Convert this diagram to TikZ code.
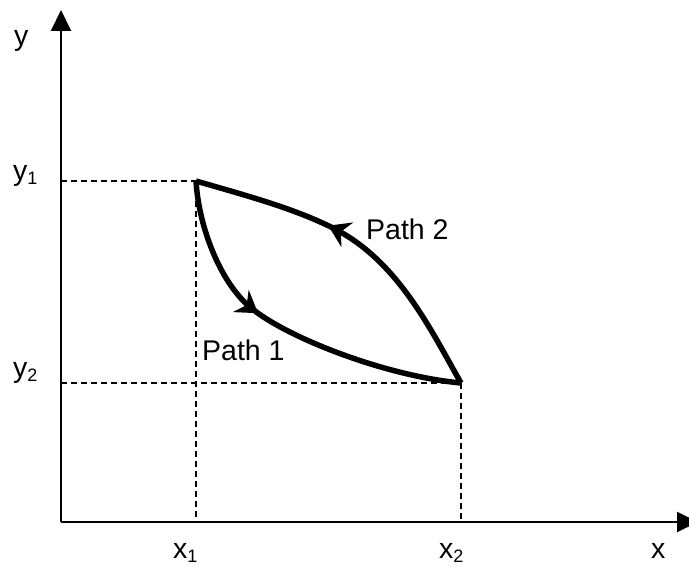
\documentclass[tikz,border=0pt]{standalone}
\usepackage{fontspec}
\setmainfont{Liberation Sans}
\usetikzlibrary{arrows.meta,decorations.markings}
\newcommand\lowsub[1]{\raisebox{-4pt}{\fontsize{18}{18}\selectfont #1}}
\tikzset{
  headtip/.tip={Stealth[length=21pt,width=27pt,inset=7pt]},
  axis/.style={line width=2pt,-{Triangle[length=21pt,width=20pt]}},
  guide/.style={line width=1.3pt,dash pattern=on 6pt off 4pt},
  pathcurve/.style={line width=5.5pt,line join=miter,postaction={decorate}},
  lbl/.style={anchor=base west,inner sep=0pt,font=\fontsize{28.5}{31}\selectfont},
}
\begin{document}
\begin{tikzpicture}[x=1pt,y=-1pt]
\useasboundingbox (0,0) rectangle (689,567);
\coordinate (O) at (61,522);
\coordinate (ytip) at (61,10);
\coordinate (xtip) at (698,522);
\coordinate (P1) at (196,181);
\coordinate (P2) at (461,383);
\coordinate (Q) at (250,307);
\coordinate (M) at (333,228);
% axes
\draw[axis] (O) -- (ytip);
\draw[axis] (O) -- (xtip);
% guides
\draw[guide] (O |- P1) -- (P1);
\draw[guide] (O |- P2) -- (P2);
\draw[guide] (P1) -- (P1 |- O);
\draw[guide] (P2) -- (P2 |- O);
% path 1
\draw[pathcurve,decoration={markings,mark=at position 0.41 with {\arrow{headtip}}}]
  (P1) .. controls (199,230) and (222,284) .. (Q)
       .. controls (285,337) and (385,376) .. (P2);
% path 2
\draw[pathcurve,decoration={markings,mark=at position 0.6 with {\arrow{headtip}}}]
  (P2) .. controls (431,330.5) and (398,260.5) .. (M)
       .. controls (293,208) and (246,195.5) .. (P1);
% labels
\node[lbl] (ly) at (14,46) {y};
\node[lbl] (lx) at (651,558) {x};
\node[lbl] (ly1) at (13,181) {y\lowsub{1}};
\node[lbl] (ly2) at (13,377) {y\lowsub{2}};
\node[lbl] (lx1) at (173,558) {x\lowsub{1}};
\node[lbl] (lx2) at (439,558) {x\lowsub{2}};
\node[lbl] (lp1) at (202,360) {Path 1};
\node[lbl] (lp2) at (366,240) {Path 2};
\end{tikzpicture}
\end{document}
